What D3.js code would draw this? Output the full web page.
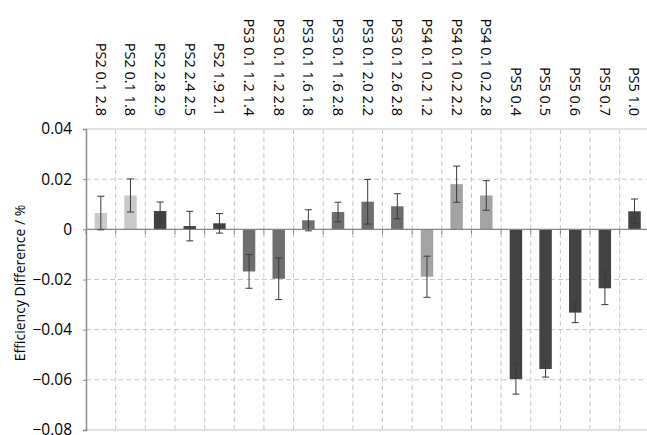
<!DOCTYPE html>
<html>
<head>
<meta charset="utf-8">
<script src="https://cdn.jsdelivr.net/npm/d3@7"></script>
<style>
  html, body { margin: 0; padding: 0; background: #fff; }
  svg { display: block; }
  text { font-family: "Open Sans", "Noto Sans", sans-serif; fill: #000; }
</style>
</head>
<body>
<svg id="chart" width="647" height="435"></svg>
<script>
// Sample groups along the x axis
const categories = [
  "PS2 0.1 2.8", "PS2 0.1 1.8", "PS2 2.8 2.9", "PS2 2.4 2.5", "PS2 1.9 2.1",
  "PS3 0.1 1.2 1.4", "PS3 0.1 1.2 2.8", "PS3 0.1 1.6 1.8", "PS3 0.1 1.6 2.8",
  "PS3 0.1 2.0 2.2", "PS3 0.1 2.6 2.8", "PS4 0.1 0.2 1.2", "PS4 0.1 0.2 2.2",
  "PS4 0.1 0.2 2.8", "PS5 0.4", "PS5 0.5", "PS5 0.6", "PS5 0.7", "PS5 1.0"
];
// Mean efficiency difference (%) per group
const values = [
  0.0065, 0.0135, 0.0073, 0.0013, 0.0024,
  -0.0168, -0.0197, 0.0036, 0.0069, 0.0110, 0.0092,
  -0.0189, 0.0180, 0.0135,
  -0.0597, -0.0557, -0.0332, -0.0235, 0.0072
];
// Half-width of the error bar per group
const errors = [
  0.0067, 0.0066, 0.0036, 0.0059, 0.0039,
  0.0067, 0.0083, 0.0042, 0.0039, 0.0089, 0.0050,
  0.0082, 0.0072, 0.0059,
  0.0060, 0.0032, 0.0040, 0.0065, 0.0049
];
// Fill shade per group
const shades = [
  "#c9c9c9", "#c9c9c9", "#414141", "#414141", "#414141",
  "#6e6e6e", "#6e6e6e", "#6e6e6e", "#6e6e6e", "#6e6e6e", "#6e6e6e",
  "#a3a3a3", "#a3a3a3", "#a3a3a3",
  "#434343", "#434343", "#434343", "#434343", "#434343"
];
const yTicks = [0.04, 0.02, 0, -0.02, -0.04, -0.06, -0.08];
const yTitle = "Efficiency Difference / %";

const svg = d3.select("#chart");
const plotLeft = 86, plotTop = 129, plotBottom = 430;
const step = 29.65;
const plotRight = plotLeft + step * categories.length;

const x = d3.scaleBand().domain(categories).range([plotLeft, plotRight]).padding(0);
const y = d3.scaleLinear().domain([-0.08, 0.04]).range([plotBottom, plotTop]);

const fmt = v => v === 0 ? "0" : d3.format(".2f")(v);

// horizontal dashed gridlines
svg.append("g")
  .selectAll("line")
  .data(yTicks.filter(v => v !== 0 && v !== 0.04 && v !== -0.08))
  .join("line")
  .attr("x1", plotLeft).attr("x2", plotRight)
  .attr("y1", d => y(d)).attr("y2", d => y(d))
  .attr("stroke", "#c8c8c8").attr("stroke-width", 1)
  .attr("stroke-dasharray", "5,3");

// vertical dashed gridlines at band boundaries
svg.append("g")
  .selectAll("line")
  .data(d3.range(1, categories.length + 1))
  .join("line")
  .attr("x1", i => plotLeft + step * i)
  .attr("x2", i => plotLeft + step * i)
  .attr("y1", plotTop).attr("y2", plotBottom)
  .attr("stroke", "#c8c8c8").attr("stroke-width", 1)
  .attr("stroke-dasharray", "5,3");

// top and bottom frame lines
svg.append("line")
  .attr("x1", plotLeft).attr("x2", plotRight)
  .attr("y1", plotTop).attr("y2", plotTop)
  .attr("stroke", "#d9d9d9").attr("stroke-width", 1.5);
svg.append("line")
  .attr("x1", plotLeft).attr("x2", plotRight)
  .attr("y1", plotBottom).attr("y2", plotBottom)
  .attr("stroke", "#d9d9d9").attr("stroke-width", 1.5);

// bars
const barW = step * 0.42;
svg.append("g")
  .selectAll("rect")
  .data(categories)
  .join("rect")
  .attr("x", d => x(d) + (step - barW) / 2)
  .attr("width", barW)
  .attr("y", (d, i) => y(Math.max(0, values[i])))
  .attr("height", (d, i) => Math.abs(y(values[i]) - y(0)))
  .attr("fill", (d, i) => shades[i]);

// zero line with small ticks below at band boundaries
svg.append("line")
  .attr("x1", plotLeft).attr("x2", plotRight)
  .attr("y1", y(0)).attr("y2", y(0))
  .attr("stroke", "#858585").attr("stroke-width", 1.3);
svg.append("g")
  .selectAll("line")
  .data(d3.range(categories.length + 1))
  .join("line")
  .attr("x1", i => plotLeft + step * i).attr("x2", i => plotLeft + step * i)
  .attr("y1", y(0)).attr("y2", y(0) + 5)
  .attr("stroke", "#858585").attr("stroke-width", 1);

// error bars
const err = svg.append("g").attr("stroke", "#3a3a3a").attr("stroke-width", 1);
categories.forEach((c, i) => {
  const cx = x(c) + step / 2;
  const hi = y(values[i] + errors[i]);
  const lo = y(values[i] - errors[i]);
  err.append("line").attr("x1", cx).attr("x2", cx).attr("y1", hi).attr("y2", lo);
  err.append("line").attr("x1", cx - 3.5).attr("x2", cx + 3.5).attr("y1", hi).attr("y2", hi);
  err.append("line").attr("x1", cx - 3.5).attr("x2", cx + 3.5).attr("y1", lo).attr("y2", lo);
});

// y axis
const yAxis = d3.axisLeft(y).tickValues(yTicks).tickSize(3).tickPadding(11).tickFormat(fmt);
const gy = svg.append("g").attr("transform", `translate(${plotLeft},0)`).call(yAxis);
gy.select(".domain").attr("stroke", "#8c8c8c").attr("stroke-width", 1.5);
gy.selectAll(".tick line").attr("stroke", "#8c8c8c");
gy.selectAll(".tick text")
  .attr("font-family", "'Open Sans', sans-serif")
  .attr("font-size", 15.5)
  .attr("fill", "#000");

// category labels, rotated above the plot
svg.append("g")
  .selectAll("text")
  .data(categories)
  .join("text")
  .attr("transform", d => `translate(${x(d) + step / 2},116) rotate(90)`)
  .attr("text-anchor", "end")
  .attr("dy", "0.35em")
  .attr("font-size", 14.5)
  .text(d => d);

// y axis title
svg.append("text")
  .attr("transform", "translate(20,283) rotate(-90)")
  .attr("text-anchor", "middle")
  .attr("dy", "0.35em")
  .attr("font-size", 14)
  .text(yTitle);
</script>
</body>
</html>
